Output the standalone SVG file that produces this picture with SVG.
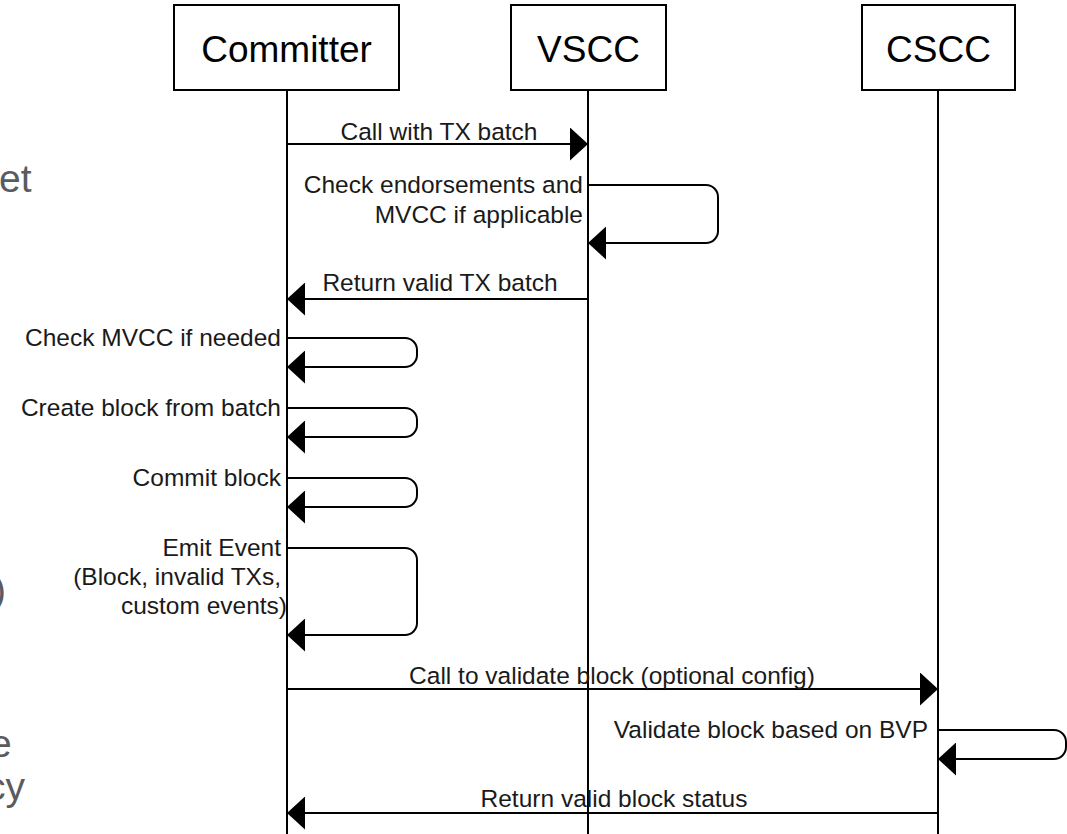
<svg xmlns="http://www.w3.org/2000/svg" width="1067" height="834" viewBox="0 0 1067 834">
<style>
.box{fill:#fff;stroke:#000;stroke-width:2}
.life{stroke:#000;stroke-width:2;fill:none}
.msg{stroke:#000;stroke-width:2;fill:none;marker-end:url(#ah)}
.title{font-family:"Liberation Sans",Arial,sans-serif;font-size:37px;fill:#000;text-anchor:middle}
.lbl{font-family:"Liberation Sans",Arial,sans-serif;font-size:24.5px;fill:#1a1a1a}
.r{text-anchor:end}
.m{text-anchor:middle}
.bg{font-family:"Liberation Sans",Arial,sans-serif;font-size:39px;fill:#5a5b5f}
</style>
<defs>
<marker id="ah" viewBox="0 0 18 33" refX="18" refY="16.5" markerWidth="18" markerHeight="33" markerUnits="userSpaceOnUse" orient="auto">
<path d="M0,0 L18,16.5 L0,33 Z" fill="#000"/>
</marker>
</defs>
<rect width="1067" height="834" fill="#fff"/>
<g id="background-fragments">
<text class="bg" x="-1" y="192">et</text>
<text class="bg" x="-7" y="603">)</text>
<text class="bg" x="-10" y="757">e</text>
<text class="bg" x="-14" y="800">cy</text>
</g>
<g id="lifelines">
<line class="life" x1="287" y1="90" x2="287" y2="834"/>
<line class="life" x1="588" y1="90" x2="588" y2="834"/>
<line class="life" x1="938" y1="90" x2="938" y2="834"/>
</g>
<g id="committer">
<rect class="box" x="174" y="5" width="225" height="85"/>
<text class="title" x="286.5" y="62">Committer</text>
</g>
<g id="vscc">
<rect class="box" x="511" y="5" width="155" height="85"/>
<text class="title" x="588.5" y="62">VSCC</text>
</g>
<g id="cscc">
<rect class="box" x="862" y="5" width="153" height="85"/>
<text class="title" x="938.5" y="62">CSCC</text>
</g>
<g id="connectors">
<path class="msg" d="M287,144 H588"/>
<path class="msg" d="M588,185 H706 A12,12 0 0 1 718,197 V231 A12,12 0 0 1 706,243 H588"/>
<path class="msg" d="M588,299 H287"/>
<path class="msg" d="M287,338 H405 A12,12 0 0 1 417,350 V355 A12,12 0 0 1 405,367 H287"/>
<path class="msg" d="M287,408 H405 A12,12 0 0 1 417,420 V425 A12,12 0 0 1 405,437 H287"/>
<path class="msg" d="M287,478 H405 A12,12 0 0 1 417,490 V495 A12,12 0 0 1 405,507 H287"/>
<path class="msg" d="M287,548 H405 A12,12 0 0 1 417,560 V623 A12,12 0 0 1 405,635 H287"/>
<path class="msg" d="M287,689 H938"/>
<path class="msg" d="M938,730 H1054 A12,12 0 0 1 1066,742 V747 A12,12 0 0 1 1054,759 H938"/>
<path class="msg" d="M938,813 H287"/>
</g>
<g id="labels">
<text class="lbl m" x="439" y="140">Call with TX batch</text>
<text class="lbl r" x="583" y="193">Check endorsements and</text>
<text class="lbl r" x="583" y="223">MVCC if applicable</text>
<text class="lbl m" x="440" y="291">Return valid TX batch</text>
<text class="lbl r" x="281" y="346">Check MVCC if needed</text>
<text class="lbl r" x="281" y="416">Create block from batch</text>
<text class="lbl r" x="281" y="486">Commit block</text>
<text class="lbl r" x="281" y="556">Emit Event</text>
<text class="lbl r" x="281" y="585">(Block, invalid TXs,</text>
<text class="lbl r" x="287" y="614">custom events)</text>
<text class="lbl m" x="612" y="684">Call to validate block (optional config)</text>
<text class="lbl r" x="928" y="738">Validate block based on BVP</text>
<text class="lbl m" x="614" y="807">Return valid block status</text>
</g>
</svg>
